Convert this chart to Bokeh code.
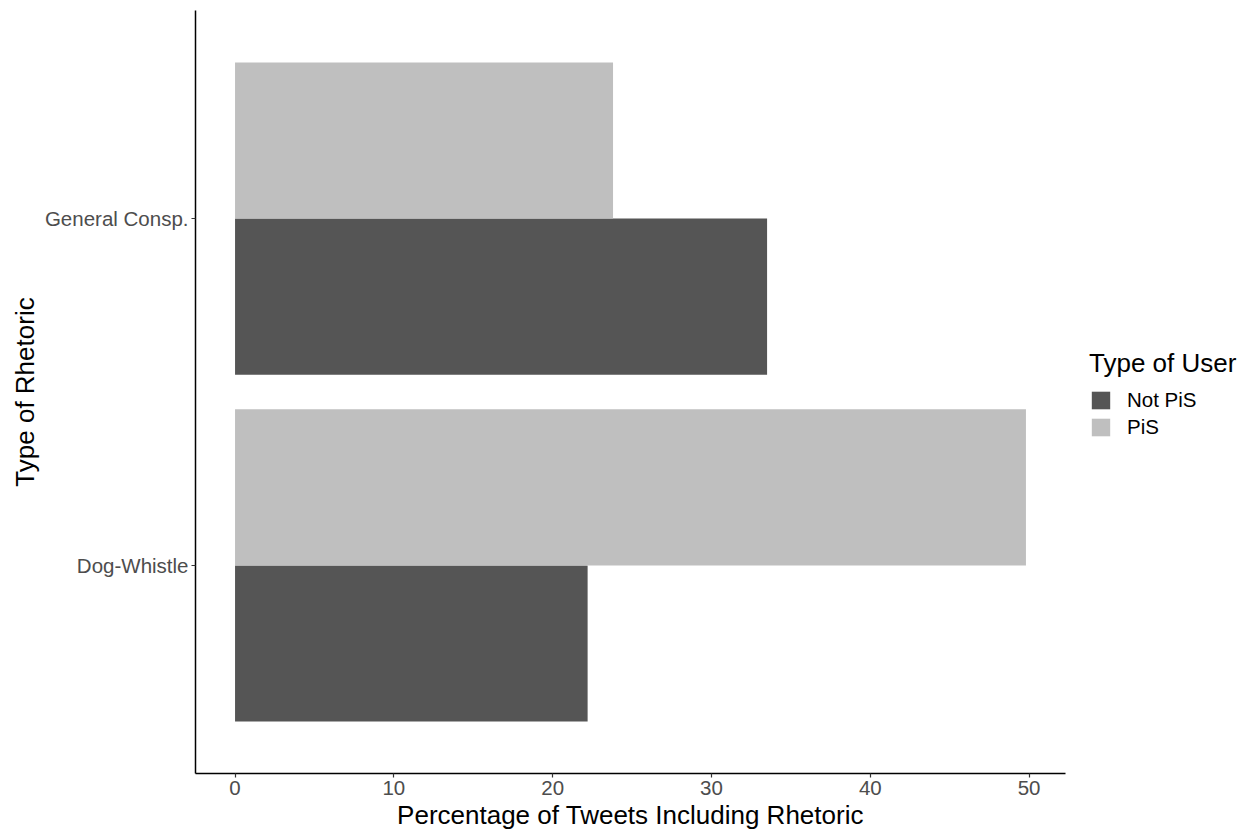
from bokeh.plotting import figure
from bokeh.models import FactorRange, Range1d, ColumnDataSource, Legend, LegendItem
from bokeh.transform import dodge
from bokeh.embed import file_html
from bokeh.resources import INLINE

categories = ["Dog-Whistle", "General Consp."]
not_pis = [22.2, 33.5]
pis = [49.8, 23.8]
x_ticks = [0, 10, 20, 30, 40, 50]

FONT = "Liberation Sans"

src = ColumnDataSource(dict(cat=categories, not_pis=not_pis, pis=pis))

p = figure(frame_width=870, frame_height=763, output_backend="svg", toolbar_location=None,
           y_range=FactorRange(factors=categories, range_padding=0.1),
           x_range=Range1d(-2.49, 52.29),
           min_border_left=195, min_border_top=10, min_border_right=0, min_border_bottom=50)

r_not = p.hbar(y=dodge("cat", -0.225, range=p.y_range), left=0, right="not_pis", height=0.45,
               source=src, fill_color="#555555", line_color=None)
r_pis = p.hbar(y=dodge("cat", 0.225, range=p.y_range), left=0, right="pis", height=0.45,
               source=src, fill_color="#bfbfbf", line_color=None)

p.xgrid.visible = False
p.ygrid.visible = False
p.outline_line_color = None
p.background_fill_color = "white"
p.border_fill_color = "white"

p.xaxis.ticker = x_ticks
p.xaxis.axis_label = "Percentage of Tweets Including Rhetoric"
p.yaxis.axis_label = "Type of Rhetoric"
for ax in (p.xaxis[0], p.yaxis[0]):
    ax.axis_line_color = "black"
    ax.axis_line_width = 1.5
    ax.major_tick_line_color = "#333333"
    ax.major_tick_line_width = 1.2
    ax.major_tick_out = 4
    ax.major_tick_in = 0
    ax.minor_tick_line_color = None
    ax.major_label_text_font = FONT
    ax.major_label_text_font_size = "20.5px"
    ax.major_label_text_color = "#4d4d4d"
    ax.axis_label_text_font = FONT
    ax.axis_label_text_font_size = "26px"
    ax.axis_label_text_font_style = "normal"
    ax.axis_label_text_color = "black"
    ax.major_label_standoff = 3
    ax.axis_label_standoff = 2

legend = Legend(items=[LegendItem(label="Not PiS", renderers=[r_not]),
                       LegendItem(label="PiS", renderers=[r_pis])],
                title="Type of User", location=(24, 334), orientation="vertical")
legend.margin = 14
legend.padding = 5
legend.border_line_color = None
legend.background_fill_alpha = 0
legend.title_text_font = FONT
legend.title_text_font_size = "26px"
legend.title_text_font_style = "normal"
legend.title_text_color = "black"
legend.title_standoff = 9
legend.label_text_font = FONT
legend.label_text_font_size = "20.5px"
legend.label_text_color = "black"
legend.glyph_width = 23
legend.glyph_height = 22
legend.label_height = 22
legend.label_standoff = 15
legend.spacing = 3
p.add_layout(legend, "right")

open("out.html", "w").write(file_html(p, INLINE))
